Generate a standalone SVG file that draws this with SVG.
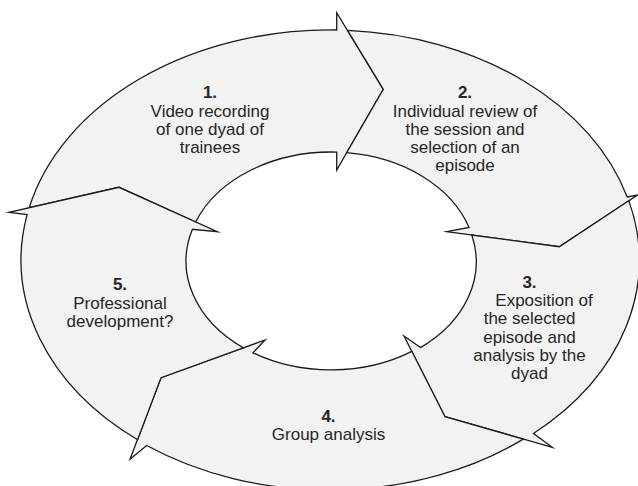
<svg xmlns="http://www.w3.org/2000/svg" width="638" height="486" viewBox="0 0 638 486">
<style>
.seg{fill:#f2f2f2;stroke:#1a1a1a;stroke-width:1.3;stroke-linejoin:miter;stroke-miterlimit:20}
text{font-family:"Liberation Sans",Arial,Helvetica,sans-serif;font-size:17px;fill:#262626;text-anchor:middle}
.n{font-weight:bold}
</style>
<rect width="638" height="486" fill="#ffffff"/>
<g id="step1">
<path class="seg" d="M29.2 207.7 A309 230 0 0 1 336.7 30 L336.7 12.7 L383.3 89.3 L336.7 170 L336.7 152.1 A145 109 0 0 0 195.6 222 L119 187.3 Z"/>
<text x="210" y="98.3" class="n">1.</text>
<text x="210" y="116.5">Video recording</text>
<text x="210" y="134.7">of one dyad of</text>
<text x="210" y="152.9">trainees</text>
</g>
<g id="step2">
<path class="seg" d="M347.5 30.4 A309 230 0 0 1 627.2 197 L637.5 195 L559.3 246.7 L446.7 231.7 L469 227.4 A145 109 0 0 0 346.7 152.7 L383.3 89.3 Z"/>
<text x="465" y="98.3" class="n">2.</text>
<text x="465" y="116.5">Individual review of</text>
<text x="465" y="134.7">the session and</text>
<text x="465" y="152.9">selection of an</text>
<text x="465" y="171.1">episode</text>
</g>
<g id="step3">
<path class="seg" d="M628.8 200.8 A309 230 0 0 1 533.5 433.5 L552.3 447.3 L445 416.7 L404 336 L420.5 347.6 A145 109 0 0 0 471.8 235 L559.3 246.7 Z"/>
<text x="529.5" y="287.8" class="n">3.</text>
<text x="544" y="306.1">Exposition of</text>
<text x="529.5" y="324.4">the selected</text>
<text x="529.5" y="342.7">episode and</text>
<text x="529.5" y="361">analysis by the</text>
<text x="529.5" y="379.3">dyad</text>
</g>
<g id="step4">
<path class="seg" d="M523.3 439.1 A309 230 0 0 1 146.7 445.5 L130 459.3 L161 377.7 L265 340 L253 352.8 A145 109 0 0 0 411.8 351.3 L445 416.7 Z"/>
<text x="328.5" y="421.5" class="n">4.</text>
<text x="328.5" y="439.8">Group analysis</text>
</g>
<g id="step5">
<path class="seg" d="M137.6 439.7 A309 230 0 0 1 27.1 214.6 L9 212.3 L119 187.3 L217.3 231.7 L192.4 229.3 A145 109 0 0 0 243.3 347.9 L161 377.7 Z"/>
<text x="120" y="290.3" class="n">5.</text>
<text x="120" y="308.6">Professional</text>
<text x="120" y="326.9">development?</text>
</g>
<g id="connectors"></g>
</svg>
